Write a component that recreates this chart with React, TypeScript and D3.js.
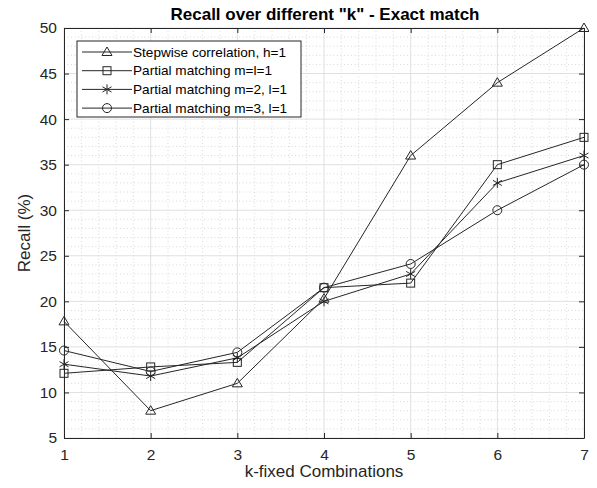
import React, { useEffect, useRef } from 'react';
import * as d3 from 'd3';

// values
const kValues = [1, 2, 3, 4, 5, 6, 7];
const stepwise = [17.8, 8, 11, 20.3, 36, 44, 50];
const partialMl1 = [12.1, 12.8, 13.3, 21.5, 22, 35, 38];
const partialM2 = [13.1, 11.8, 13.8, 20, 23, 33, 36];
const partialM3 = [14.6, 12.3, 14.4, 21.5, 24.1, 30, 35];
const seriesNames = [
  'Stepwise correlation, h=1',
  'Partial matching m=l=1',
  'Partial matching m=2, l=1',
  'Partial matching m=3, l=1',
];
const markerKinds = ['triangle', 'square', 'star', 'circle'];
const yTicks = [5, 10, 15, 20, 25, 30, 35, 40, 45, 50];

const W = 597;
const H = 488;
const margin = { top: 28, right: 13, bottom: 50, left: 64 };
const FONT = '"Liberation Sans", Arial, Helvetica, sans-serif';
const INK = '#262626';

function drawMarker(g: any, kind: string, x: number, y: number) {
  const s = 4.5;
  if (kind === 'triangle') {
    g.append('path')
      .attr('d', `M${x},${y - s - 0.5}L${x + s + 0.5},${y + s - 1}L${x - s - 0.5},${y + s - 1}Z`)
      .attr('fill', 'none').attr('stroke', INK).attr('stroke-width', 1);
  } else if (kind === 'square') {
    g.append('rect')
      .attr('x', x - 4).attr('y', y - 4).attr('width', 8).attr('height', 8)
      .attr('fill', 'none').attr('stroke', INK).attr('stroke-width', 1);
  } else if (kind === 'circle') {
    g.append('circle')
      .attr('cx', x).attr('cy', y).attr('r', 4.5)
      .attr('fill', 'none').attr('stroke', INK).attr('stroke-width', 1);
  } else {
    // asterisk
    g.append('path')
      .attr('d', `M${x},${y - 5}V${y + 5}M${x - 4.5},${y - 2.6}L${x + 4.5},${y + 2.6}M${x - 4.5},${y + 2.6}L${x + 4.5},${y - 2.6}`)
      .attr('fill', 'none').attr('stroke', INK).attr('stroke-width', 1);
  }
}

const App = () => {
  const svgRef = useRef<SVGSVGElement>(null);

  useEffect(() => {
    const svg = d3.select(svgRef.current);
    svg.selectAll('*').remove();

    const x = d3.scaleLinear().domain([1, 7]).range([margin.left, W - margin.right]);
    const y = d3.scaleLinear().domain([5, 50]).range([H - margin.bottom, margin.top]);
    const [x0, x1] = x.range();
    const [y0, y1] = y.range();

    // background
    svg.append('rect').attr('width', W).attr('height', H).attr('fill', '#fff');

    // minor grid
    const grid = svg.append('g');
    const xMinor = d3.range(1, 7.001, 0.2).filter(v => Math.abs(v - Math.round(v)) > 0.01);
    const yMinor = d3.range(5, 50.001, 1).filter(v => v % 5 !== 0);
    xMinor.forEach(v => {
      grid.append('line').attr('x1', x(v)).attr('x2', x(v)).attr('y1', y0).attr('y2', y1)
        .attr('stroke', '#cfcfcf').attr('stroke-width', 0.8).attr('stroke-dasharray', '1,2.5');
    });
    yMinor.forEach(v => {
      grid.append('line').attr('x1', x0).attr('x2', x1).attr('y1', y(v)).attr('y2', y(v))
        .attr('stroke', '#cfcfcf').attr('stroke-width', 0.8).attr('stroke-dasharray', '1,2.5');
    });
    // major grid
    kValues.forEach(v => {
      grid.append('line').attr('x1', x(v)).attr('x2', x(v)).attr('y1', y0).attr('y2', y1)
        .attr('stroke', '#e0e0e0').attr('stroke-width', 1);
    });
    yTicks.forEach(v => {
      grid.append('line').attr('x1', x0).attr('x2', x1).attr('y1', y(v)).attr('y2', y(v))
        .attr('stroke', '#e0e0e0').attr('stroke-width', 1);
    });

    // axes (box with inward ticks)
    const axisStyle = (g: any) => {
      g.select('.domain').attr('stroke', INK);
      g.selectAll('.tick line').attr('stroke', INK);
      g.selectAll('.tick text').attr('fill', INK).attr('font-size', 15.5).attr('font-family', FONT);
    };
    svg.append('g').attr('transform', `translate(0,${y0})`)
      .call(d3.axisBottom(x).tickValues(kValues).tickFormat(d3.format('d')).tickSizeInner(-5).tickSizeOuter(0).tickPadding(11))
      .call(axisStyle);
    svg.append('g').attr('transform', `translate(0,${y1})`)
      .call(d3.axisTop(x).tickValues(kValues).tickFormat(() => '').tickSizeInner(-5).tickSizeOuter(0))
      .call(axisStyle);
    svg.append('g').attr('transform', `translate(${x0},0)`)
      .call(d3.axisLeft(y).tickValues(yTicks).tickSizeInner(-5).tickSizeOuter(0).tickPadding(7))
      .call(axisStyle);
    svg.append('g').attr('transform', `translate(${x1},0)`)
      .call(d3.axisRight(y).tickValues(yTicks).tickFormat(() => '').tickSizeInner(-5).tickSizeOuter(0))
      .call(axisStyle);

    // series
    const allSeries = [stepwise, partialMl1, partialM2, partialM3];
    const line = d3.line<number>().x((d, i) => x(kValues[i])).y(d => y(d));
    allSeries.forEach((vals, si) => {
      svg.append('path').datum(vals).attr('d', line)
        .attr('fill', 'none').attr('stroke', INK).attr('stroke-width', 1);
      const mg = svg.append('g');
      vals.forEach((v, i) => drawMarker(mg, markerKinds[si], x(kValues[i]), y(v)));
    });

    // legend
    const lg = svg.append('g');
    const lx = 77, ly = 41, lw = 224, lh = 76;
    lg.append('rect').attr('x', lx).attr('y', ly).attr('width', lw).attr('height', lh)
      .attr('fill', '#fff').attr('stroke', INK).attr('stroke-width', 1);
    seriesNames.forEach((name, i) => {
      const cy = ly + 11 + i * 18.7;
      lg.append('line').attr('x1', lx + 5).attr('x2', lx + 55).attr('y1', cy).attr('y2', cy)
        .attr('stroke', INK).attr('stroke-width', 1);
      drawMarker(lg, markerKinds[i], lx + 30, cy);
      lg.append('text').attr('x', lx + 56).attr('y', cy).attr('dy', '0.35em')
        .attr('font-family', FONT).attr('font-size', 13.6).attr('fill', '#000').text(name);
    });

    // title and axis labels
    svg.append('text').attr('x', 325).attr('y', 20).attr('text-anchor', 'middle')
      .attr('font-family', FONT).attr('font-size', 17).attr('font-weight', 'bold').attr('fill', '#000')
      .text('Recall over different "k" - Exact match');
    svg.append('text').attr('x', (x0 + x1) / 2).attr('y', 477).attr('text-anchor', 'middle')
      .attr('font-family', FONT).attr('font-size', 17).attr('fill', INK)
      .text('k-fixed Combinations');
    svg.append('text').attr('transform', `translate(30,${(y0 + y1) / 2}) rotate(-90)`)
      .attr('text-anchor', 'middle')
      .attr('font-family', FONT).attr('font-size', 17).attr('fill', INK)
      .text('Recall (%)');
  }, []);

  return <svg ref={svgRef} width={W} height={H} style={{ display: 'block', margin: -8 }} />;
};

export default App;
